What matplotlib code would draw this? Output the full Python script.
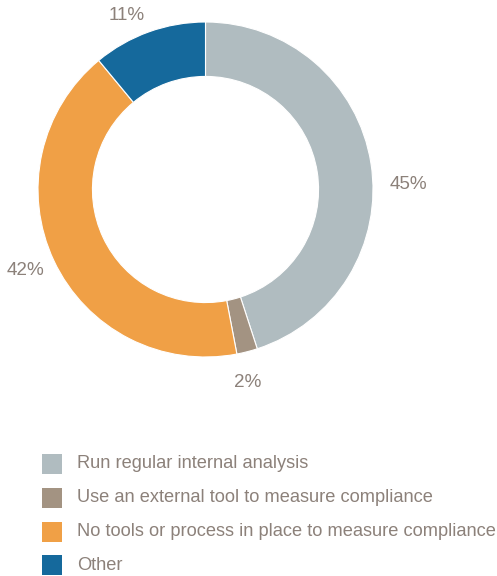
import numpy as np
import matplotlib
matplotlib.use("Agg")
import matplotlib.pyplot as plt
from matplotlib.patches import Rectangle

categories = [
    "Run regular internal analysis",
    "Use an external tool to measure compliance",
    "No tools or process in place to measure compliance",
    "Other",
]
shares = [45, 2, 42, 11]
colors = ["#b0bcc0", "#a39382", "#f0a046", "#15699c"]
text_color = "#8c817a"

# nudges (degrees) so the outer labels sit where the report had them
label_shift = [-7.5, -2, -1, 4.5]
label_radius = [1.21, 1.18, 1.18, 1.14]

plt.rcParams["font.family"] = ["Liberation Sans", "DejaVu Sans"]

W, H = 497, 576
fig = plt.figure(figsize=(W / 100, H / 100), dpi=100)

cx, cy, r = 205.5, 189.5, 167.5
ax = fig.add_axes([(cx - r) / W, 1 - (cy + r) / H, 2 * r / W, 2 * r / H])
wedges, _ = ax.pie(shares, colors=colors, startangle=90, counterclock=False,
                   radius=1, wedgeprops=dict(width=0.325, edgecolor="white", linewidth=0.8))
ax.set_xlim(-1, 1)
ax.set_ylim(-1, 1)
ax.set_aspect("equal")
ax.axis("off")

for w, v, s, rr in zip(wedges, shares, label_shift, label_radius):
    ang = np.deg2rad((w.theta1 + w.theta2) / 2 + s)
    ax.text(rr * np.cos(ang), rr * np.sin(ang), f"{v}%", ha="center", va="center",
            fontsize=13.6, color=text_color, clip_on=False)

# legend rows
rows_y = [464, 498, 532, 565]
for name, c, y in zip(categories, colors, rows_y):
    fig.patches.append(Rectangle((42 / W, 1 - (y + 10) / H), 20 / W, 20 / H,
                                 transform=fig.transFigure, facecolor=c, edgecolor="none"))
    fig.text(77 / W, 1 - y / H, name, ha="left", va="center", fontsize=13.15, color=text_color)

fig.savefig("out.png", dpi=100)
